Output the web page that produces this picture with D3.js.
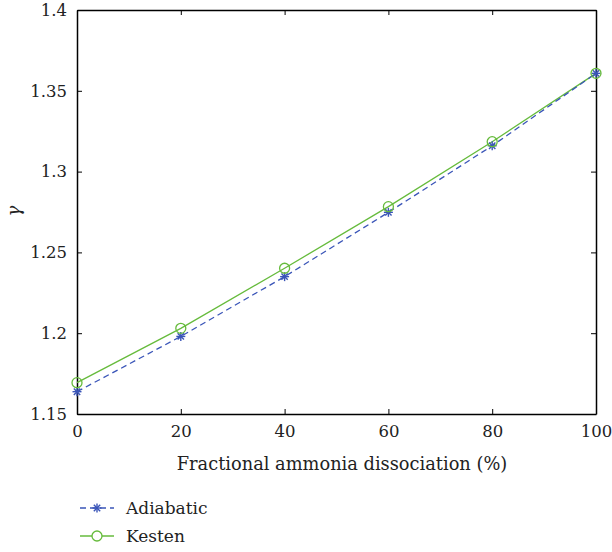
<!DOCTYPE html>
<html>
<head>
<meta charset="utf-8">
<script src="https://cdn.jsdelivr.net/npm/d3@7"></script>
<style>
  body { margin: 0; background: #fff; }
</style>
</head>
<body>
<svg id="chart" width="612" height="552"></svg>
<script>
// Data
const dissociation = [0, 20, 40, 60, 80, 100];
const adiabatic = [1.1638, 1.198, 1.235, 1.2748, 1.316, 1.3608];
const kesten    = [1.1694, 1.203, 1.2402, 1.2783, 1.3185, 1.3608];
const xTicks = [0, 20, 40, 60, 80, 100];
const yTicks = [1.15, 1.2, 1.25, 1.3, 1.35, 1.4];

const BLUE = '#3a55b8';
const GREEN = '#66bb3c';
const FONT = 'DejaVu Serif';

const svg = d3.select('#chart');
const m = { left: 77, right: 596, top: 10, bottom: 414 };

const x = d3.scaleLinear().domain([0, 100]).range([m.left, m.right]);
const y = d3.scaleLinear().domain([1.15, 1.4]).range([m.bottom, m.top]);

// Axes (ticks pointing inward, mirrored on top and right)
const tickLen = 5;
svg.append('g').attr('transform', `translate(0,${m.bottom})`)
  .call(d3.axisBottom(x).tickValues(xTicks).tickSizeInner(-tickLen).tickSizeOuter(0).tickPadding(11).tickFormat(d3.format('d')));
svg.append('g').attr('transform', `translate(0,${m.top})`)
  .call(d3.axisTop(x).tickValues(xTicks).tickSizeInner(-tickLen).tickSizeOuter(0).tickFormat(''));
svg.append('g').attr('transform', `translate(${m.left},0)`)
  .call(d3.axisLeft(y).tickValues(yTicks).tickSizeInner(-tickLen).tickSizeOuter(0).tickPadding(10).tickFormat(d => String(+d.toFixed(2))));
svg.append('g').attr('transform', `translate(${m.right},0)`)
  .call(d3.axisRight(y).tickValues(yTicks).tickSizeInner(-tickLen).tickSizeOuter(0).tickFormat(''));

svg.selectAll('.domain').attr('stroke', '#000').attr('stroke-width', 1.5);
svg.selectAll('.tick line').attr('stroke', '#000').attr('stroke-width', 1);
svg.selectAll('.tick text').attr('font-size', 16.5).attr('fill', '#222');

// Axis labels
svg.append('text')
  .attr('x', 342).attr('y', 470)
  .attr('text-anchor', 'middle').attr('font-size', 17.8).attr('fill', '#222')
  .text('Fractional ammonia dissociation (%)');
svg.append('text')
  .attr('transform', 'translate(20,211) rotate(-90)')
  .attr('text-anchor', 'middle').attr('font-size', 18).attr('font-style', 'italic').attr('fill', '#222')
  .text('γ');

// Lines
const line = vals => d3.line().x((d, i) => x(dissociation[i])).y(d => y(d))(vals);

svg.append('path').attr('d', line(kesten))
  .attr('fill', 'none').attr('stroke', GREEN).attr('stroke-width', 1.3);
svg.append('path').attr('d', line(adiabatic))
  .attr('fill', 'none').attr('stroke', BLUE).attr('stroke-width', 1.3).attr('stroke-dasharray', '6,4');

// Markers
function star(g, cx, cy, r, color) {
  for (let k = 0; k < 4; k++) {
    const a = k * Math.PI / 4;
    g.append('line')
      .attr('x1', cx - r * Math.cos(a)).attr('y1', cy - r * Math.sin(a))
      .attr('x2', cx + r * Math.cos(a)).attr('y2', cy + r * Math.sin(a))
      .attr('stroke', color).attr('stroke-width', 1.4);
  }
}
const markG = svg.append('g');
adiabatic.forEach((v, i) => star(markG, x(dissociation[i]), y(v), 4.5, BLUE));
markG.selectAll('circle.k').data(kesten).join('circle').attr('class', 'k')
  .attr('cx', (d, i) => x(dissociation[i])).attr('cy', d => y(d)).attr('r', 5)
  .attr('fill', 'none').attr('stroke', GREEN).attr('stroke-width', 1.3);

// Legend
const legend = svg.append('g');
const lx0 = 80, lx1 = 114, lxm = 97;
const ly1 = 508, ly2 = 536;
legend.append('line').attr('x1', lx0).attr('x2', lx1).attr('y1', ly1).attr('y2', ly1)
  .attr('stroke', BLUE).attr('stroke-width', 1.3).attr('stroke-dasharray', '6,4');
star(legend, lxm, ly1, 4.5, BLUE);
legend.append('line').attr('x1', lx0).attr('x2', lx1).attr('y1', ly2).attr('y2', ly2)
  .attr('stroke', GREEN).attr('stroke-width', 1.3);
legend.append('circle').attr('cx', lxm).attr('cy', ly2).attr('r', 5)
  .attr('fill', '#fff').attr('stroke', GREEN).attr('stroke-width', 1.3);
legend.append('text').attr('x', 126).attr('y', ly1 + 6).attr('font-size', 17).attr('fill', '#222').text('Adiabatic');
legend.append('text').attr('x', 126).attr('y', ly2 + 6).attr('font-size', 17).attr('fill', '#222').text('Kesten');

svg.selectAll('text').attr('font-family', FONT);
</script>
</body>
</html>
